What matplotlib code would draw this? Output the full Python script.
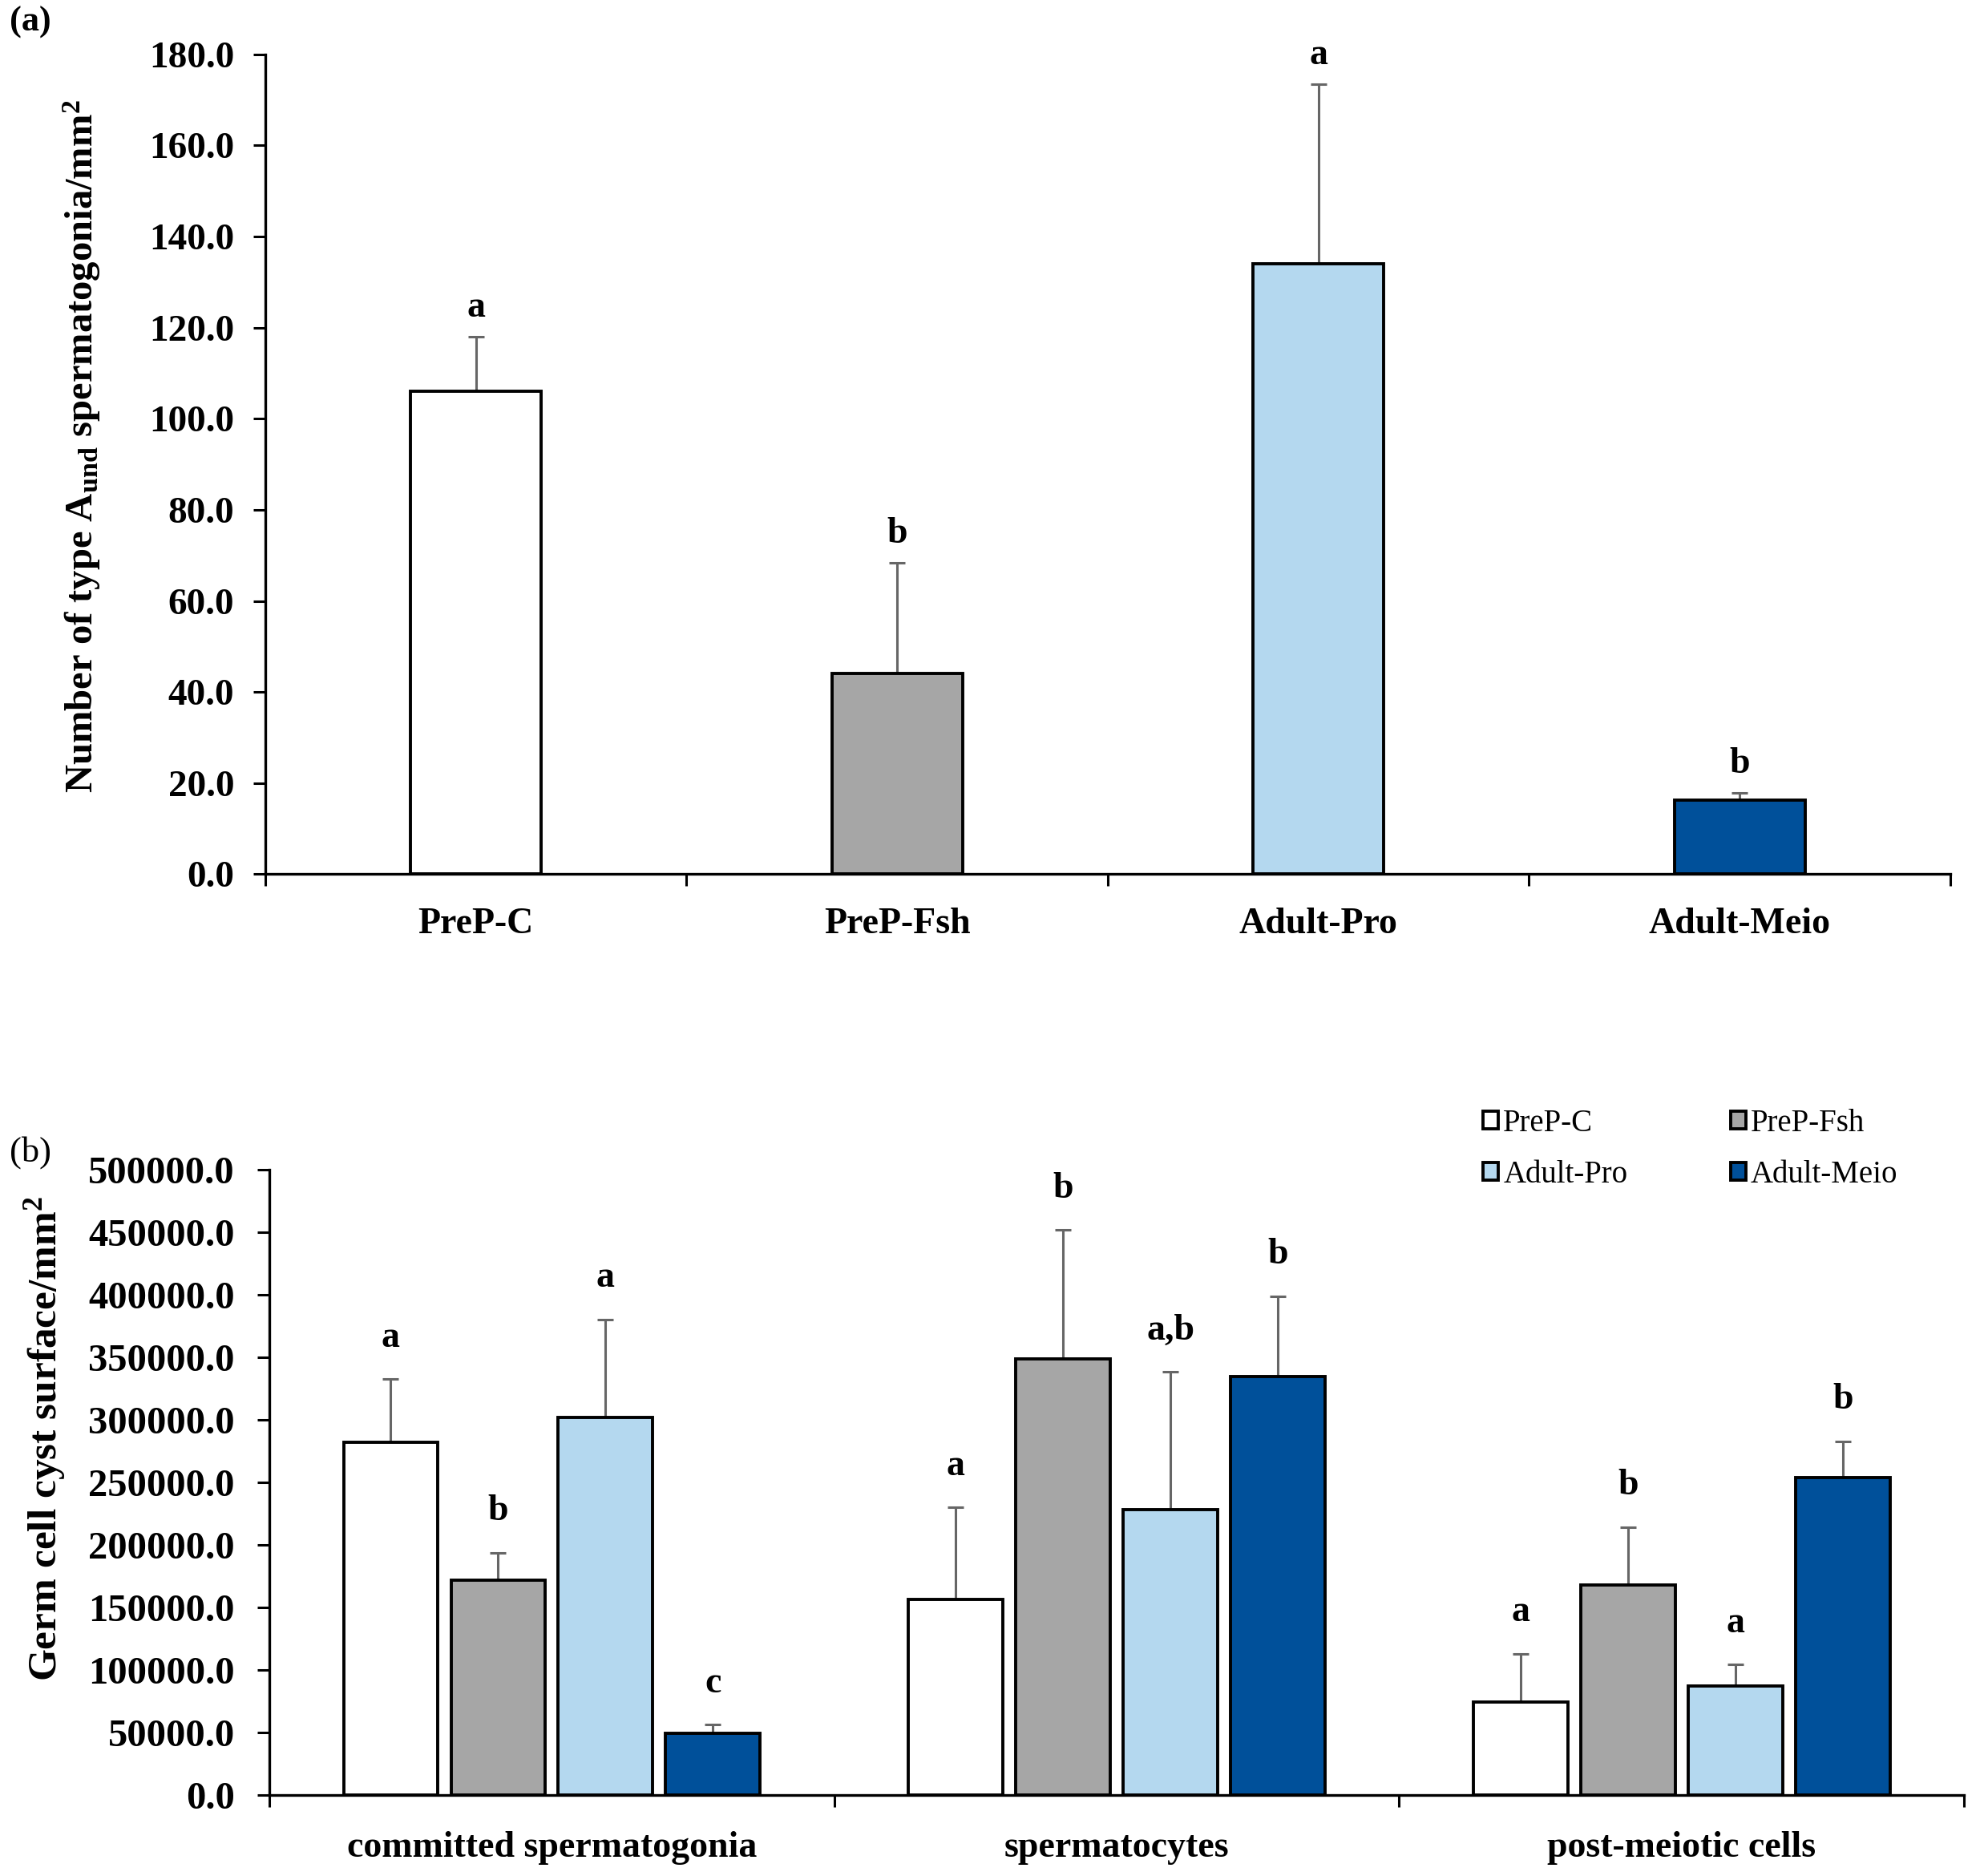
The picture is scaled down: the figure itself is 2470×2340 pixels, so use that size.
import numpy as np
import matplotlib
matplotlib.use('Agg')
import matplotlib.pyplot as plt
from matplotlib.ticker import FormatStrFormatter, MultipleLocator, FixedLocator

plt.rcParams['font.family'] = ['Liberation Serif', 'DejaVu Serif']
plt.rcParams['mathtext.default'] = 'regular'

# groups and colours
groups = ['PreP-C', 'PreP-Fsh', 'Adult-Pro', 'Adult-Meio']
colors = ['#FFFFFF', '#A6A6A6', '#B4D8EF', '#00509A']

# panel (a): type Aund spermatogonia per mm2
aund_mean = [106.0, 44.0, 134.0, 16.2]
aund_err = [12.0, 24.4, 39.4, 1.6]
aund_sig = ['a', 'b', 'a', 'b']

# panel (b): germ cell cyst surface per mm2
stages = ['committed spermatogonia', 'spermatocytes', 'post-meiotic cells']
cyst_mean = {
    'PreP-C': [282000, 156500, 74500],
    'PreP-Fsh': [172000, 349000, 168000],
    'Adult-Pro': [301700, 228500, 87200],
    'Adult-Meio': [49800, 335000, 254000],
}
cyst_err = {
    'PreP-C': [50500, 73600, 38700],
    'PreP-Fsh': [22000, 103000, 46400],
    'Adult-Pro': [78700, 110200, 17400],
    'Adult-Meio': [6800, 64000, 29000],
}
cyst_sig = {
    'PreP-C': ['a', 'a', 'a'],
    'PreP-Fsh': ['b', 'b', 'b'],
    'Adult-Pro': ['a', 'a,b', 'a'],
    'Adult-Meio': ['c', 'b', 'b'],
}

ERR_COLOR = '#666666'
EDGE_LW = 2.8


def style_axis(ax, n, ytick_size, ypad, xpad, xsize):
    for s in ['top', 'right']:
        ax.spines[s].set_visible(False)
    for s in ['left', 'bottom']:
        ax.spines[s].set_linewidth(2.4)
    ax.set_xlim(-0.5, n - 0.5)
    ax.set_xticks(np.arange(n))
    ax.xaxis.set_minor_locator(FixedLocator(np.arange(n + 1) - 0.5))
    ax.tick_params(axis='x', which='major', length=0, pad=xpad, labelsize=xsize)
    ax.tick_params(axis='x', which='minor', length=11, width=2.2, direction='out')
    ax.tick_params(axis='y', length=11, width=2.2, direction='out', pad=ypad,
                   labelsize=ytick_size)
    for lab in ax.get_yticklabels() + ax.get_xticklabels():
        lab.set_fontweight('bold')


fig = plt.figure(figsize=(24.7, 23.4), dpi=100)

# ---------- panel (a)
ax1 = fig.add_axes([0.134, 0.534, 0.851, 0.437])
x = np.arange(len(groups))
ax1.errorbar(x, aund_mean, yerr=[np.zeros(len(x)), aund_err], fmt='none',
             ecolor=ERR_COLOR, elinewidth=2.2, capsize=7, capthick=2.2, zorder=1)
ax1.bar(x, aund_mean, width=0.31, color=colors, edgecolor='black',
        linewidth=EDGE_LW, zorder=2)
for xi, m, e, s in zip(x, aund_mean, aund_err, aund_sig):
    ax1.annotate(s, (xi, m + e), xytext=(0, 18), textcoords='offset points',
                 ha='center', va='baseline', fontsize=33, fontweight='bold')
ax1.set_ylim(0, 180)
ax1.yaxis.set_major_locator(MultipleLocator(20))
ax1.yaxis.set_major_formatter(FormatStrFormatter('%.1f'))
ax1.set_xticklabels(groups)
style_axis(ax1, len(groups), 34, 17, 30, 33)
ax1.set_ylabel('Number of type A$_{\\mathregular{und}}$ spermatogonia/mm$^{\\mathregular{2}}$',
               fontsize=35, fontweight='bold')
ax1.yaxis.set_label_coords(0.052, 0.762, transform=fig.transFigure)

# ---------- panel (b)
ax2 = fig.add_axes([0.136, 0.043, 0.856, 0.3335])
xs = np.arange(len(stages))
width = 0.167
offsets = [-0.285, -0.095, 0.095, 0.285]
for g, c, off in zip(groups, colors, offsets):
    pos = xs + off
    ax2.errorbar(pos, cyst_mean[g], yerr=[np.zeros(len(xs)), cyst_err[g]], fmt='none',
                 ecolor=ERR_COLOR, elinewidth=2.2, capsize=7, capthick=2.2, zorder=1)
    ax2.bar(pos, cyst_mean[g], width=width, color=c, edgecolor='black',
            linewidth=EDGE_LW, zorder=2, label=g)
    for xi, m, e, s in zip(pos, cyst_mean[g], cyst_err[g], cyst_sig[g]):
        ax2.annotate(s, (xi, m + e), xytext=(0, 29), textcoords='offset points',
                     ha='center', va='baseline', fontsize=33, fontweight='bold')
ax2.set_ylim(0, 500000)
ax2.yaxis.set_major_locator(MultipleLocator(50000))
ax2.yaxis.set_major_formatter(FormatStrFormatter('%.1f'))
ax2.set_xticklabels(stages)
style_axis(ax2, len(stages), 35, 20, 32, 33)
ax2.set_ylabel('Germ cell cyst surface/mm$^{\\mathregular{2}}$', fontsize=37,
               fontweight='bold')
ax2.yaxis.set_label_coords(0.034, 0.233, transform=fig.transFigure)

handles, labels = ax2.get_legend_handles_labels()
order = [0, 2, 1, 3]
fig.legend([handles[i] for i in order], [labels[i] for i in order], ncol=2,
           loc='upper left', bbox_to_anchor=(0.749, 0.409), frameon=False,
           fontsize=28, handlelength=0.5, handleheight=0.5, handletextpad=0.15,
           columnspacing=3.3, labelspacing=0.7, borderpad=0, borderaxespad=0)

fig.text(0.005, 0.988, '(a)', fontsize=32, fontweight='bold', va='center')
fig.text(0.005, 0.3855, '(b)', fontsize=32, va='center')

fig.savefig('out.png', dpi=100, facecolor='white')
